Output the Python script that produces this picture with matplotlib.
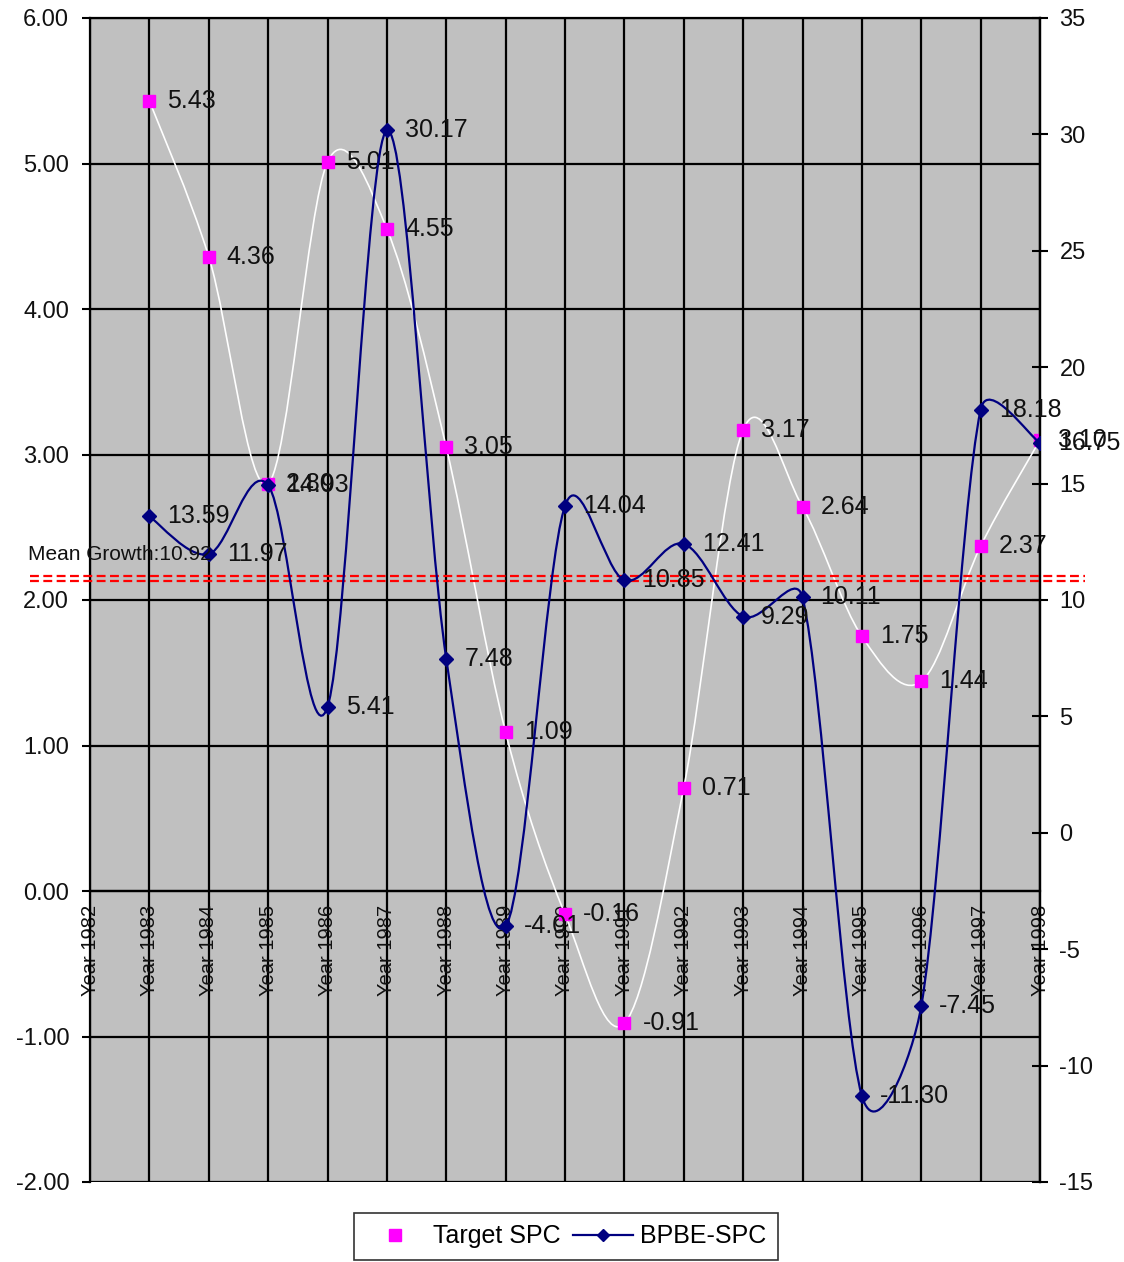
import matplotlib
matplotlib.use('Agg')
import matplotlib.pyplot as plt
import matplotlib.transforms as mtransforms
from matplotlib.lines import Line2D
from matplotlib.path import Path
from matplotlib.patches import PathPatch
import numpy as np

# ---------- data ----------
years = [f'Year {y}' for y in range(1982, 1999)]
point_years = list(range(1983, 1999))
target_spc = [5.43, 4.36, 2.80, 5.01, 4.55, 3.05, 1.09, -0.16, -0.91,
              0.71, 3.17, 2.64, 1.75, 1.44, 2.37, 3.10]
bpbe_spc = [13.59, 11.97, 14.93, 5.41, 30.17, 7.48, -4.01, 14.04, 10.85,
            12.41, 9.29, 10.11, -11.30, -7.45, 18.18, 16.75]
mean_growth = 10.92

GRAY = '#C0C0C0'
MAGENTA = '#FF00FF'
NAVY = '#000080'
INK = '#111111'

plt.rcParams['font.family'] = ['Liberation Sans', 'DejaVu Sans']
FS_TICK = 17
FS_LABEL = 18
FS_X = 14.5


def smooth_path(axes, xs, ys):
    """Excel-style smoothed line: Bezier segments built in display space,
    control arms clamped to half the segment length."""
    pts = axes.transData.transform(np.column_stack([xs, ys]).astype(float))
    n = len(pts)
    verts = [pts[0]]
    codes = [Path.MOVETO]
    for i in range(n - 1):
        p0 = pts[i - 1] if i > 0 else pts[i]
        p1 = pts[i]
        p2 = pts[i + 1]
        p3 = pts[i + 2] if i + 2 < n else pts[i + 1]
        d02 = np.hypot(*(p2 - p0))
        d12 = np.hypot(*(p2 - p1))
        d13 = np.hypot(*(p3 - p1))
        f1 = 1 / 6 if d02 / 6 < d12 / 2 else d12 / (2 * d02)
        f2 = 1 / 6 if d13 / 6 < d12 / 2 else d12 / (2 * d13)
        c1 = p1 + (p2 - p0) * f1
        c2 = p2 - (p3 - p1) * f2
        verts += [c1, c2, p2]
        codes += [Path.CURVE4] * 3
    verts = axes.transData.inverted().transform(np.array(verts))
    return Path(verts, codes)


fig = plt.figure(figsize=(11.24, 12.62), dpi=100)
ax = fig.add_axes([90 / 1124, 1 - 1182 / 1262, 950 / 1124, 1164 / 1262])
ax.set_facecolor(GRAY)
ax2 = ax.twinx()

x_all = np.arange(len(years))
x_pts = np.array([years.index(f'Year {y}') for y in point_years])

# left axis: Target SPC
ax.set_xlim(0, len(years) - 1)
ax.set_ylim(-2, 6)
ax.spines['bottom'].set_position(('data', 0))
ax.set_xticks(x_all)
ax.set_xticklabels(years, rotation=90, fontsize=FS_X, va='top', ha='center',
                   color=INK)
ax.set_yticks(np.arange(-2, 7, 1))
ax.set_yticklabels([f'{v:.2f}' for v in np.arange(-2, 7, 1)], fontsize=FS_TICK,
                   color=INK)
ax.tick_params(axis='x', length=0, pad=10)
ax.tick_params(axis='y', length=6, width=1.5, pad=9, direction='out')
ax.grid(True, color='black', linewidth=1.6)
ax.set_axisbelow(True)
for s in ax.spines.values():
    s.set_color('black')
    s.set_linewidth(1.6)

# right axis: BPBE-SPC
ax2.set_ylim(-15, 35)
ax2.set_yticks(np.arange(-15, 36, 5))
ax2.set_yticklabels([str(v) for v in np.arange(-15, 36, 5)], fontsize=FS_TICK,
                    color=INK)
ax2.tick_params(axis='y', length=12, width=1.5, pad=8, direction='inout')
for s in ax2.spines.values():
    s.set_visible(False)
ax2.spines['right'].set_visible(True)
ax2.spines['right'].set_linewidth(1.6)

ax.add_patch(PathPatch(smooth_path(ax, x_pts, target_spc), facecolor='none',
                       edgecolor='white', linewidth=1.2, zorder=3))
ax.plot(x_pts, target_spc, linestyle='none', marker='s', markersize=8.5,
        color=MAGENTA, zorder=4)
for xv, yv in zip(x_pts, target_spc):
    ax.annotate(f'{yv:.2f}', (xv, yv), xytext=(13, 0), textcoords='offset points',
                va='center', ha='left', fontsize=FS_LABEL, color=INK, zorder=6)

ax2.add_patch(PathPatch(smooth_path(ax2, x_pts, bpbe_spc), facecolor='none',
                        edgecolor=NAVY, linewidth=1.6, zorder=3))
ax2.plot(x_pts, bpbe_spc, linestyle='none', marker='D', markersize=7,
         color=NAVY, zorder=4)
for xv, yv in zip(x_pts, bpbe_spc):
    ax2.annotate(f'{yv:.2f}', (xv, yv), xytext=(13, 0), textcoords='offset points',
                 va='center', ha='left', fontsize=FS_LABEL, color=INK, zorder=6)

# mean growth: double red dashed line reaching past the plot edges
blend = mtransforms.blended_transform_factory(fig.transFigure, ax2.transData)
for dy in (-2.5, 2.5):
    tr = blend + mtransforms.ScaledTranslation(0, dy / 100, fig.dpi_scale_trans)
    ax2.plot([30 / 1124, 1085 / 1124], [mean_growth, mean_growth], transform=tr,
             color='red', linestyle=(0, (4, 2)), linewidth=1.6, zorder=2,
             clip_on=False)
ax2.text(28 / 1124, 1 - 564 / 1262, f'Mean Growth:{mean_growth:.2f}',
         transform=fig.transFigure, fontsize=15, ha='left', va='bottom',
         color=INK, zorder=7)

handles = [
    Line2D([], [], linestyle='none', marker='s', markersize=8, color=MAGENTA),
    Line2D([], [], color=NAVY, linewidth=1.6, marker='D', markersize=6),
]
leg = fig.legend(handles, ['Target SPC', 'BPBE-SPC'], loc='lower center',
                 bbox_to_anchor=(566 / 1124, 0.0), ncol=2, fontsize=FS_LABEL,
                 frameon=True, fancybox=False, handlelength=2.4,
                 columnspacing=0.5, handletextpad=0.3, borderpad=0.45,
                 borderaxespad=0.1)
leg.get_frame().set_edgecolor('black')
leg.get_frame().set_linewidth(1.2)

fig.savefig('out.png', dpi=100)
